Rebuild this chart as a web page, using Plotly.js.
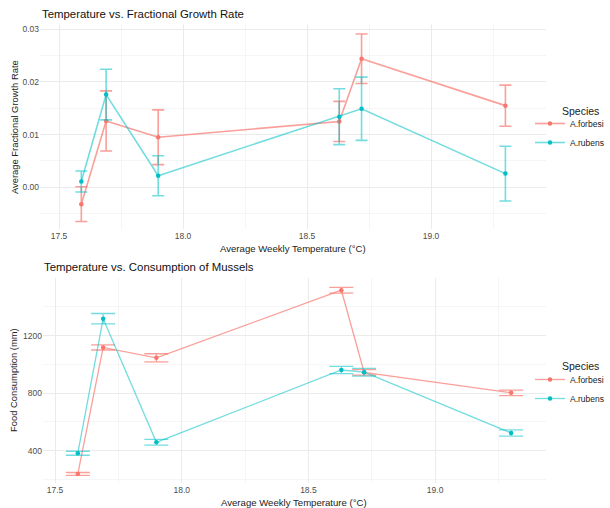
<!DOCTYPE html>
<html>
<head>
<meta charset="utf-8">
<script src="https://cdn.plot.ly/plotly-3.0.1.min.js"></script>
<style>html,body{margin:0;padding:0;background:#fff;overflow:hidden;}#chart{width:610px;height:508px;}</style>
</head>
<body>
<div id="chart"></div>
<script>
// ---- Data ----
const species = ["A.forbesi", "A.rubens"];
const temperature = [17.59, 17.69, 17.90, 18.63, 18.72, 19.30];

// Top: average fractional growth rate
const growthForbesi = [-0.0032, 0.0126, 0.0095, 0.0125, 0.0244, 0.0155];
const growthForbesiErr = [0.0033, 0.0057, 0.0052, 0.0038, 0.0047, 0.0039];
const growthRubens = [0.0011, 0.0176, 0.0022, 0.0134, 0.0149, 0.0026];
const growthRubensErr = [0.0020, 0.0048, 0.0038, 0.0053, 0.0060, 0.0052];

// Bottom: food consumption (mm)
const consForbesi = [238, 1118, 1046, 1516, 945, 802];
const consForbesiErr = [10, 18, 28, 20, 19, 19];
const consRubens = [382, 1318, 458, 961, 946, 523];
const consRubensErr = [14, 36, 20, 25, 27, 22];

const xTickVals = [17.5, 18.0, 18.5, 19.0];
const xTickText = ["17.5", "18.0", "18.5", "19.0"];
const legendTitle = "Species";

// ---- Styles ----
const red = "#F8766D", teal = "#00BFC4";
const redA = "rgba(248,118,109,0.7)", tealA = "rgba(0,191,196,0.55)";
const font = "Liberation Sans, Arial, sans-serif";

function trace(y, err, name, col, colA, xa, ya, legend, lw, cap) {
  return {
    x: temperature, y: y, type: "scatter", mode: "lines+markers", name: name,
    xaxis: xa, yaxis: ya, legend: legend, showlegend: true,
    line: {color: colA, width: lw},
    marker: {color: col, size: 4.5},
    error_y: {type: "data", array: err, visible: true, color: colA, thickness: lw, width: cap}
  };
}

const data = [
  trace(growthForbesi, growthForbesiErr, species[0], red, redA, "x", "y", "legend", 1.6, 6),
  trace(growthRubens, growthRubensErr, species[1], teal, tealA, "x", "y", "legend", 1.6, 6),
  trace(consForbesi, consForbesiErr, species[0], red, redA, "x2", "y2", "legend2", 1.3, 12),
  trace(consRubens, consRubensErr, species[1], teal, tealA, "x2", "y2", "legend2", 1.3, 12)
];

const W = 610, H = 508;
const gridMajor = "#EBEBEB", gridMinor = "#F5F5F5";
const tickFont = {family: font, size: 8.5, color: "#4D4D4D"};

function xaxis(dom, range, anchor) {
  return {domain: dom, range: range, anchor: anchor, tickvals: xTickVals, ticktext: xTickText,
    showgrid: true, gridcolor: gridMajor, gridwidth: 1, zeroline: false, showline: false, ticks: "",
    tickfont: tickFont, minor: {tickvals: [17.75, 18.25, 18.75, 19.25], showgrid: true, gridcolor: gridMinor, gridwidth: 1}};
}

const legendCommon = {
  xanchor: "right", yanchor: "top", bgcolor: "rgba(0,0,0,0)", x: 1,
  font: {family: font, size: 8.5, color: "#1a1a1a"},
  tracegroupgap: 0, itemwidth: 30
};

const layout = {
  width: W, height: H, margin: {l: 0, r: 0, t: 0, b: 0},
  paper_bgcolor: "#fff", plot_bgcolor: "#fff",
  font: {family: font},
  xaxis: xaxis([40 / W, 546 / W], [17.4234, 19.4637], "y"),
  yaxis: {domain: [(H - 229) / H, (H - 24) / H], range: [-0.00791, 0.03099], anchor: "x",
    tickvals: [0, 0.01, 0.02, 0.03], ticktext: ["0.00", "0.01", "0.02", "0.03"],
    showgrid: true, gridcolor: gridMajor, zeroline: false, showline: false, ticks: "", tickfont: tickFont,
    minor: {tickvals: [-0.005, 0.005, 0.015, 0.025], showgrid: true, gridcolor: gridMinor}},
  xaxis2: xaxis([43 / W, 546 / W], [17.4526, 19.4376], "y2"),
  yaxis2: {domain: [(H - 483) / H, (H - 278) / H], range: [175, 1601], anchor: "x2",
    tickvals: [400, 800, 1200], ticktext: ["400", "800", "1200"],
    showgrid: true, gridcolor: gridMajor, zeroline: false, showline: false, ticks: "", tickfont: tickFont,
    minor: {tickvals: [200, 600, 1000, 1400], showgrid: true, gridcolor: gridMinor}},
  legend: Object.assign({y: (H - 109) / H}, legendCommon),
  legend2: Object.assign({y: (H - 365) / H}, legendCommon),
  annotations: [
    {text: "Temperature vs. Fractional Growth Rate", xref: "paper", yref: "paper", x: 40 / W, y: (H - 14) / H,
      xanchor: "left", yanchor: "middle", showarrow: false, font: {family: font, size: 11.4, color: "#111"}},
    {text: "Temperature vs. Consumption of Mussels", xref: "paper", yref: "paper", x: 42 / W, y: (H - 267) / H,
      xanchor: "left", yanchor: "middle", showarrow: false, font: {family: font, size: 11.4, color: "#111"}},
    {text: "Average Weekly Temperature (°C)", xref: "paper", yref: "paper", x: 293 / W, y: (H - 248) / H,
      xanchor: "center", yanchor: "middle", showarrow: false, font: {family: font, size: 9.6, color: "#222"}},
    {text: "Average Weekly Temperature (°C)", xref: "paper", yref: "paper", x: 294 / W, y: (H - 502) / H,
      xanchor: "center", yanchor: "middle", showarrow: false, font: {family: font, size: 9.6, color: "#222"}},
    {text: "Average Fractional Growth Rate", xref: "paper", yref: "paper", x: 14 / W, y: (H - 127) / H,
      xanchor: "center", yanchor: "middle", textangle: -90, showarrow: false, font: {family: font, size: 9.4, color: "#222"}},
    {text: "Food Consumption (mm)", xref: "paper", yref: "paper", x: 13 / W, y: (H - 380) / H,
      xanchor: "center", yanchor: "middle", textangle: -90, showarrow: false, font: {family: font, size: 9.4, color: "#222"}},
    {text: legendTitle, xref: "paper", yref: "paper", x: 560 / W, y: (H - 111) / H,
      xanchor: "left", yanchor: "middle", showarrow: false, font: {family: font, size: 10.5, color: "#1a1a1a"}},
    {text: legendTitle, xref: "paper", yref: "paper", x: 560 / W, y: (H - 366) / H,
      xanchor: "left", yanchor: "middle", showarrow: false, font: {family: font, size: 10.5, color: "#1a1a1a"}}
  ]
};

Plotly.newPlot("chart", data, layout, {displayModeBar: false, staticPlot: true});
</script>
</body>
</html>
